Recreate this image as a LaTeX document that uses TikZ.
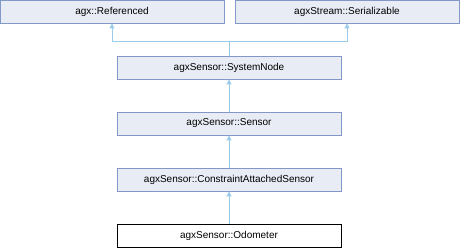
\documentclass[tikz,border=0pt]{standalone}
\usepackage{fontspec}
\setmainfont{Liberation Sans}
\usetikzlibrary{arrows.meta}
\definecolor{clsfill}{RGB}{232,236,244}
\definecolor{clsdraw}{RGB}{132,151,201}
\definecolor{edgeblue}{RGB}{154,204,234}
\begin{document}
\begin{tikzpicture}[x=1pt,y=-1pt,font=\fontsize{10}{12}\selectfont,
  cls/.style={draw=clsdraw,fill=clsfill,line width=0.9pt,minimum width=224pt,minimum height=23pt,inner sep=0pt},
  leaf/.style={draw=black,fill=white,line width=0.9pt,minimum width=224pt,minimum height=23pt,inner sep=0pt},
  edge/.style={draw=edgeblue,line width=0.9pt,-{Triangle[width=5pt,length=5pt]}},
  plain/.style={draw=edgeblue,line width=0.9pt}]
  \useasboundingbox (0,0) rectangle (460,248);
  \node[cls] (referenced) at (112,11.5){agx::Referenced};
  \node[cls] (serializable) at (347,11.5){agxStream::Serializable};
  \node[cls] (systemnode) at (229,67.5){agxSensor::SystemNode};
  \node[cls] (sensor) at (229,123.5){agxSensor::Sensor};
  \node[cls] (constraintsensor) at (229,179.5){agxSensor::ConstraintAttachedSensor};
  \node[leaf] (odometer) at (229,235.5){agxSensor::Odometer};
  \coordinate (join) at (229,41);
  \draw[plain] (systemnode.north) -- (join);
  \draw[edge] (join) -| (referenced.south);
  \draw[edge] (join) -| (serializable.south);
  \draw[edge] (sensor) -- (systemnode);
  \draw[edge] (constraintsensor) -- (sensor);
  \draw[edge] (odometer) -- (constraintsensor);
\end{tikzpicture}
\end{document}
